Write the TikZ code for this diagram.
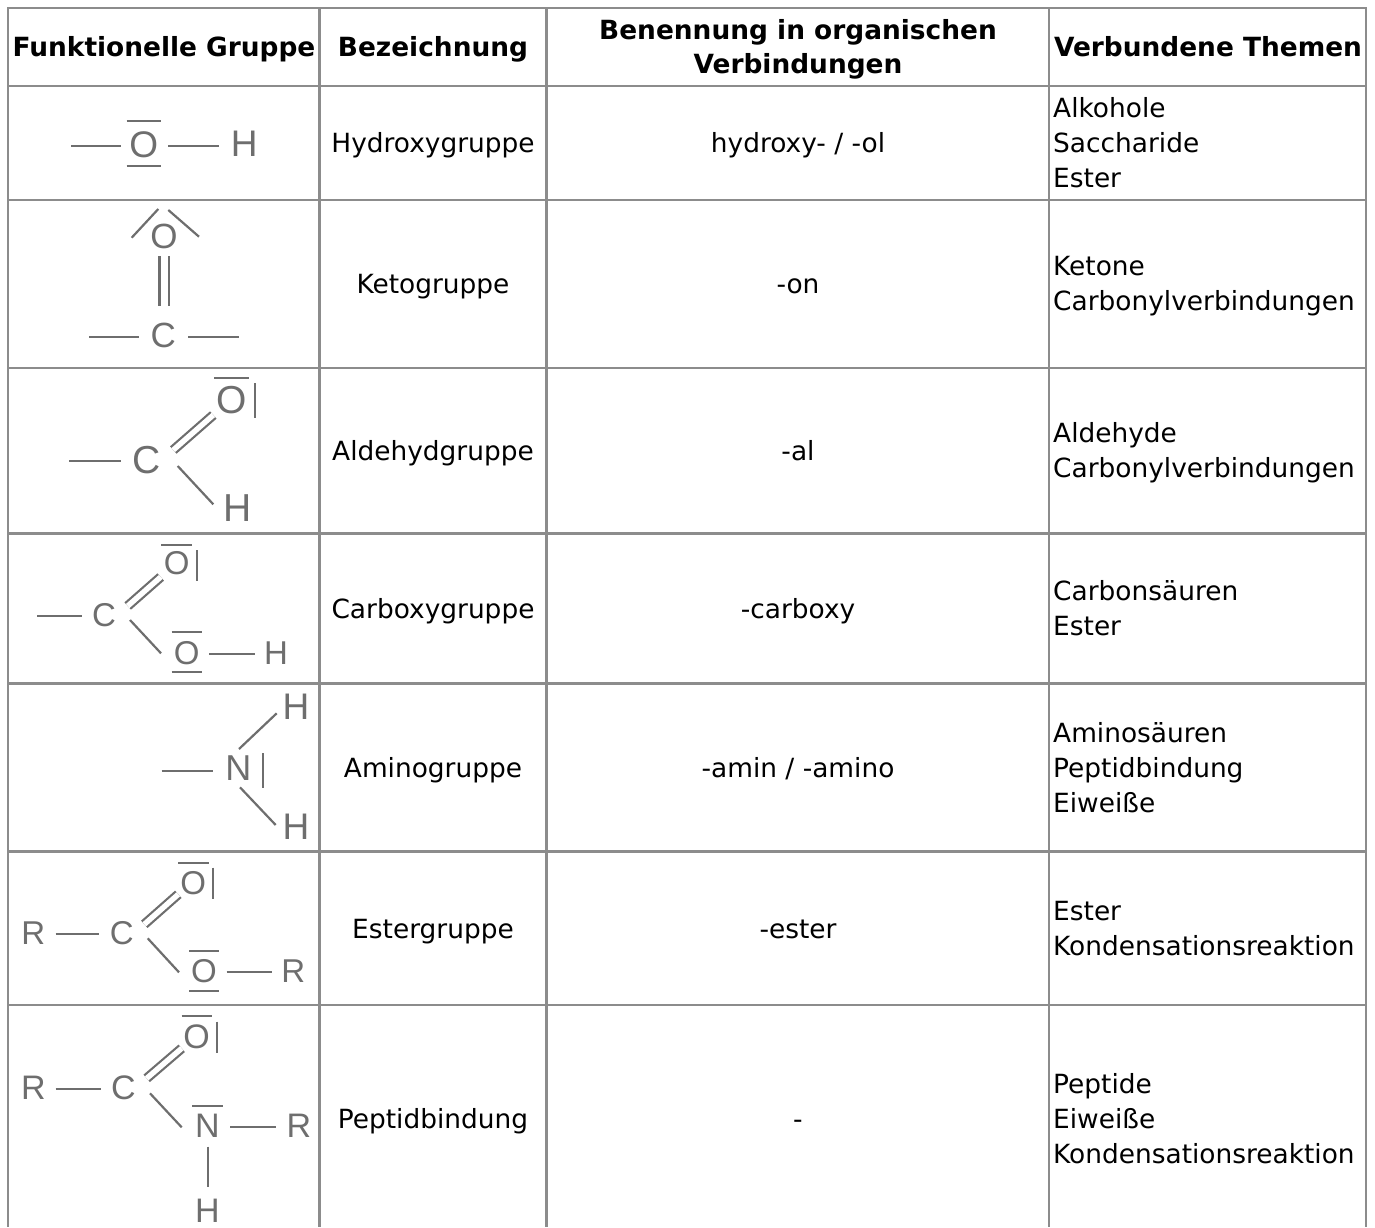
\documentclass[tikz,border=0pt]{standalone}
\usepackage{fontspec}
\setmainfont{DejaVu Sans}
\newfontfamily\chemfont{Liberation Sans}
\definecolor{gridc}{HTML}{8C8C8C}
\definecolor{chemc}{HTML}{6E6E6E}
\tikzset{
  gridline/.style={draw=gridc,line width=2.2pt},
  headcell/.style={inner sep=0,anchor=base,align=center,font=\bfseries\fontsize{26.4}{34.5}\selectfont},
  namecell/.style={inner sep=0,anchor=base,font=\fontsize{26.4}{35}\selectfont},
  topiccell/.style={inner sep=0,anchor=base west,align=left,font=\fontsize{26.4}{35}\selectfont},
  atom/.style={inner sep=0,outer sep=0,text=chemc,font=\chemfont\fontsize{#1}{#1}\selectfont},
  bond/.style={draw=chemc,line width=2.2pt},
  dbond/.style={draw=chemc,line width=2.2pt,double=white,double distance=5.4pt},
}
\begin{document}
\begin{tikzpicture}[x=1pt,y=-1pt]
\useasboundingbox (0,0) rectangle (1375,1227);
\fill[white] (0,0) rectangle (1375,1227);
% grid
\foreach \yy in {8,86,200,368,533.5,683.5,851.5,1005}
  \draw[gridline] (7,\yy) -- (1367,\yy);
\foreach \xx in {8,319.5,546.5,1049,1366}
  \draw[gridline] (\xx,7) -- (\xx,1227);
% header
\node[headcell] (h1) at (164,56) {Funktionelle Gruppe};
\node[headcell] (h2) at (433,56) {Bezeichnung};
\node[headcell] (h3a) at (798,39) {Benennung in organischen};
\node[headcell] (h3b) at (798,73.5) {Verbindungen};
\node[headcell] (h4) at (1208,56) {Verbundene Themen};
% names
\node[namecell] (n1) at (433,152) {Hydroxygruppe};
\node[namecell] (n2) at (433,293) {Ketogruppe};
\node[namecell] (n3) at (433,460) {Aldehydgruppe};
\node[namecell] (n4) at (433,618) {Carboxygruppe};
\node[namecell] (n5) at (433,777) {Aminogruppe};
\node[namecell] (n6) at (433,938) {Estergruppe};
\node[namecell] (n7) at (433,1128) {Peptidbindung};
% suffixes
\node[namecell] (s1) at (798,152) {hydroxy- / -ol};
\node[namecell] (s2) at (798,293) {-on};
\node[namecell] (s3) at (798,460) {-al};
\node[namecell] (s4) at (798,618) {-carboxy};
\node[namecell] (s5) at (798,777) {-amin / -amino};
\node[namecell] (s6) at (798,938) {-ester};
\node[namecell] (s7) at (798,1128) {-};
% topics (anchored at the baseline of the last line)
\node[topiccell] (t1) at (1053,187) {Alkohole\\Saccharide\\Ester};
\node[topiccell] (t2) at (1053,310) {Ketone\\Carbonylverbindungen};
\node[topiccell] (t3) at (1053,477) {Aldehyde\\Carbonylverbindungen};
\node[topiccell] (t4) at (1053,635) {Carbonsäuren\\Ester};
\node[topiccell] (t5) at (1053,812) {Aminosäuren\\Peptidbindung\\Eiweiße};
\node[topiccell] (t6) at (1053,955) {Ester\\Kondensationsreaktion};
\node[topiccell] (t7) at (1053,1163) {Peptide\\Eiweiße\\Kondensationsreaktion};
% row 1
\node[atom=37] (ao) at (143.7,144.3) {O};
\node[atom=37] (ah) at (244.3,143.5) {H};
\coordinate (al) at (71,145.7);
\draw[bond] (al) -- ([shift={(-23,1.4)}]ao.center);
\draw[bond] ([shift={(24.6,1.4)}]ao.center) -- ([shift={(-25,2.2)}]ah.center);
\draw[bond] ([shift={(-17,-23.6)}]ao.center) -- ([shift={(17.6,-23.6)}]ao.center);
\draw[bond] ([shift={(-17,21.7)}]ao.center) -- ([shift={(17.6,21.7)}]ao.center);
% row 2
\node[atom=35] (bo) at (164,236) {O};
\node[atom=35] (bc) at (163.3,335.7) {C};
\coordinate (bl) at (89.3,337.3);
\coordinate (br) at (238.7,337.3);
\draw[bond] ([shift={(-32.3,1.7)}]bo.center) -- ([shift={(-5.7,-27)}]bo.center);
\draw[bond] ([shift={(4.3,-26)}]bo.center) -- ([shift={(35,0.7)}]bo.center);
\draw[dbond,double distance=7pt] ([shift={(0,20)}]bo.center) -- ([shift={(0.7,-29.7)}]bc.center);
\draw[bond] (bl) -- ([shift={(-24,1.6)}]bc.center);
\draw[bond] ([shift={(25,1.6)}]bc.center) -- (br);
% row 3
\node[atom=39] (co) at (231.7,400) {O};
\node[atom=39] (cc) at (146.7,460) {C};
\node[atom=39] (ch) at (237.3,507.7) {H};
\coordinate (cl) at (69,461.3);
\draw[bond] ([shift={(-17.7,-22.3)}]co.center) -- ([shift={(17.6,-22.3)}]co.center);
\draw[bond] ([shift={(23.3,-16.7)}]co.center) -- ([shift={(23.3,18.3)}]co.center);
\draw[bond] (cl) -- ([shift={(-26,1.3)}]cc.center);
\draw[dbond] ([shift={(26.6,-10)}]cc.center) -- ([shift={(-18.4,15)}]co.center);
\draw[bond] ([shift={(31,6)}]cc.center) -- ([shift={(-24,-3.4)}]ch.center);
% row 4
\node[atom=33] (do) at (176.7,563.3) {O};
\node[atom=33] (dc) at (104,615) {C};
\node[atom=33] (dp) at (186.7,653.3) {O};
\node[atom=33] (dh) at (276,653.3) {H};
\coordinate (dl) at (37.3,616);
\draw[bond] ([shift={(-15.7,-18.3)}]do.center) -- ([shift={(15,-18.3)}]do.center);
\draw[bond] ([shift={(20,-13.3)}]do.center) -- ([shift={(20,17.4)}]do.center);
\draw[bond] (dl) -- ([shift={(-21.7,1)}]dc.center);
\draw[dbond] ([shift={(23.7,-9)}]dc.center) -- ([shift={(-16,13.7)}]do.center);
\draw[bond] ([shift={(26,5)}]dc.center) -- ([shift={(-25.7,0)}]dp.center);
\draw[bond] ([shift={(-15,-21)}]dp.center) -- ([shift={(15.6,-21)}]dp.center);
\draw[bond] ([shift={(-15,19)}]dp.center) -- ([shift={(15.6,19)}]dp.center);
\draw[bond] ([shift={(22.6,0.7)}]dp.center) -- ([shift={(-21,0.7)}]dh.center);
% row 5
\node[atom=36] (en) at (238.3,768.3) {N};
\node[atom=37] (eu) at (296,706.7) {H};
\node[atom=37] (ed) at (296,826.7) {H};
\coordinate (el) at (161.7,770.7);
\draw[bond] (el) -- ([shift={(-25,2.4)}]en.center);
\draw[bond] ([shift={(0.7,-19.3)}]en.center) -- ([shift={(-19.3,6.6)}]eu.center);
\draw[bond] ([shift={(1.7,19)}]en.center) -- ([shift={(-20.3,-1.7)}]ed.center);
\draw[bond] ([shift={(25,-15)}]en.center) -- ([shift={(25,20)}]en.center);
% row 6
\node[atom=33] (fo) at (193.3,882.7) {O};
\node[atom=33] (fr) at (33.3,933.3) {R};
\node[atom=33] (fc) at (121.7,933.3) {C};
\node[atom=33] (fp) at (204,971) {O};
\node[atom=33] (fs) at (293.3,971) {R};
\draw[bond] ([shift={(-15,-20)}]fo.center) -- ([shift={(15.7,-20)}]fo.center);
\draw[bond] ([shift={(20,-15)}]fo.center) -- ([shift={(20,16.3)}]fo.center);
\draw[bond] ([shift={(22.4,1)}]fr.center) -- ([shift={(-22.4,1)}]fc.center);
\draw[dbond] ([shift={(22.6,-9)}]fc.center) -- ([shift={(-15,11.6)}]fo.center);
\draw[bond] ([shift={(26,5)}]fc.center) -- ([shift={(-25,1.3)}]fp.center);
\draw[bond] ([shift={(-14.7,-20.3)}]fp.center) -- ([shift={(15.3,-20.3)}]fp.center);
\draw[bond] ([shift={(-14.7,19.7)}]fp.center) -- ([shift={(15.3,19.7)}]fp.center);
\draw[bond] ([shift={(22.7,1.3)}]fp.center) -- ([shift={(-21.6,1.3)}]fs.center);
% row 7
\node[atom=34] (go) at (196.7,1036.7) {O};
\node[atom=34] (gr) at (33.3,1087.3) {R};
\node[atom=34] (gc) at (123.3,1087.3) {C};
\node[atom=34] (gn) at (207.3,1126) {N};
\node[atom=34] (gs) at (299,1126) {R};
\node[atom=34] (gh) at (207.3,1210.7) {H};
\draw[bond] ([shift={(-15,-20.7)}]go.center) -- ([shift={(15.6,-20.7)}]go.center);
\draw[bond] ([shift={(20.6,-15)}]go.center) -- ([shift={(20.6,16)}]go.center);
\draw[bond] ([shift={(22.4,1.7)}]gr.center) -- ([shift={(-22.6,1.7)}]gc.center);
\draw[dbond] ([shift={(23.4,-9)}]gc.center) -- ([shift={(-15,11.6)}]go.center);
\draw[bond] ([shift={(26.7,6)}]gc.center) -- ([shift={(-25.6,1.3)}]gn.center);
\draw[bond] ([shift={(-15,-20)}]gn.center) -- ([shift={(16,-20)}]gn.center);
\draw[bond] ([shift={(22.7,1.3)}]gn.center) -- ([shift={(-23,1.3)}]gs.center);
\draw[bond] ([shift={(0.4,20.7)}]gn.center) -- ([shift={(0.4,-23.4)}]gh.center);
\end{tikzpicture}
\end{document}
